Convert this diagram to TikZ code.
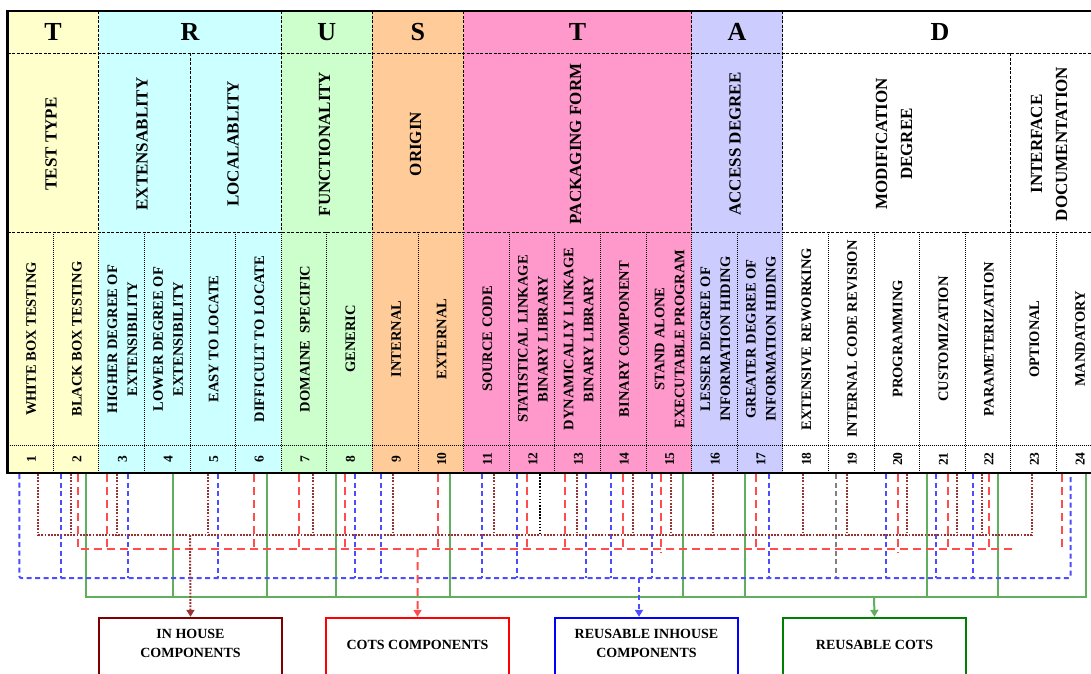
\documentclass[tikz,border=0pt]{standalone}
\usepackage{fontspec}
\setmainfont{Liberation Serif}
\usetikzlibrary{arrows.meta}
\definecolor{cY}{HTML}{FFFFCC}
\definecolor{cC}{HTML}{CCFFFF}
\definecolor{cG}{HTML}{CCFFCC}
\definecolor{cO}{HTML}{FFCC99}
\definecolor{cP}{HTML}{FF99CC}
\definecolor{cL}{HTML}{CCCCFF}
\definecolor{dred}{HTML}{993333}
\definecolor{lred}{HTML}{FF4D4D}
\definecolor{lblue}{HTML}{4D4DFF}
\definecolor{lgreen}{HTML}{5FAF5F}
\definecolor{boxred}{HTML}{800000}
\definecolor{boxgreen}{HTML}{008000}
\tikzset{
  hdr/.style={font=\fontsize{26}{28}\selectfont\bfseries, inner sep=0pt},
  mid/.style={rotate=90, align=center, font=\fontsize{17}{25}\selectfont\bfseries, inner sep=0pt},
  sub/.style={rotate=90, align=center, font=\fontsize{14.5}{20}\selectfont\bfseries, inner sep=0pt},
  num/.style={rotate=90, font=\fontsize{13.5}{15}\selectfont\bfseries, inner sep=0pt},
  gridA/.style={black, line width=0.7pt, dash pattern=on 3pt off 1.5pt},
  gridB/.style={black, line width=0.7pt, dash pattern=on 1pt off 1pt},
  frame/.style={black, line width=2.5pt},
  inhouse/.style={dred, line width=2pt, dash pattern=on 1.8pt off 1.4pt},
  cotsl/.style={lred, line width=2pt, dash pattern=on 8pt off 5pt},
  reusel/.style={lblue, line width=2pt, dash pattern=on 5pt off 3.5pt},
  rcotsl/.style={lgreen, line width=2pt},
  greyl/.style={gray, line width=2pt, dash pattern=on 5pt off 3.5pt},
  blackdot/.style={black, line width=1.5pt, dash pattern=on 1.5pt off 1.6pt},
  outbox/.style={draw=#1, line width=2.4pt, minimum width=183pt, minimum height=100pt, inner sep=0pt, fill=white},
  boxtext/.style={align=center, font=\fontsize{14}{19}\selectfont\bfseries, inner sep=0pt},
  tip/.style={-{Triangle[width=8pt,length=7pt]}}
}
\begin{document}
\begin{tikzpicture}[x=1pt,y=-1pt]
\useasboundingbox (0,0) rectangle (1091,673);
% fills
\fill[cY] (7.5,11) rectangle (98.7,473);
\fill[cC] (98.7,11) rectangle (281.1,473);
\fill[cG] (281.1,11) rectangle (372.3,473);
\fill[cO] (372.3,11) rectangle (463.5,473);
\fill[cP] (463.5,11) rectangle (691.5,473);
\fill[cL] (691.5,11) rectangle (782.7,473);
% grid
\draw[gridA] (7.5,53) -- (1101.9,53);
\draw[gridA] (7.5,232) -- (1101.9,232);
\draw[gridB] (7.5,445) -- (1101.9,445);
\foreach \x in {98.7,281.1,372.3,463.5,691.5,782.7} \draw[gridA] (\x,11) -- (\x,232);
\foreach \x in {189.9,1010.7} \draw[gridA] (\x,53) -- (\x,232);
\foreach \k in {2,...,24} \draw[gridB] ({7.5+45.6*(\k-1)},232) -- ({7.5+45.6*(\k-1)},473);
\draw[frame] (1101.9,11) -- (7.5,11) -- (7.5,473) -- (1101.9,473);
% header letters
\node[hdr] (h1) at (53.1,32) {T};
\node[hdr] (h2) at (189.9,32) {R};
\node[hdr] (h3) at (326.7,32) {U};
\node[hdr] (h4) at (417.9,32) {S};
\node[hdr] (h5) at (577.5,32) {T};
\node[hdr] (h6) at (737.1,32) {A};
\node[hdr] (h7) at (940,32) {D};
% middle labels
\node[mid] (m1) at (51,144) {TEST TYPE};
\node[mid] (m2) at (142,144) {EXTENSABLITY};
\node[mid] (m3) at (233,144) {LOCALABLITY};
\node[mid] (m4) at (324.5,144) {FUNCTIONALITY};
\node[mid] (m5) at (415.5,144) {ORIGIN};
\node[mid] (m6) at (575.5,144) {PACKAGING FORM};
\node[mid] (m7) at (735,144) {ACCESS DEGREE};
\node[mid] (m8) at (894,144) {MODIFICATION\\DEGREE};
\node[mid] (m9) at (1049,144) {INTERFACE\\DOCUMENTATION};
% sub labels
\foreach \k/\t in {1/WHITE BOX TESTING, 2/BLACK BOX TESTING,
  3/{HIGHER DEGREE OF\\EXTENSIBILITY}, 4/{LOWER DEGREE OF\\EXTENSIBILITY},
  5/EASY TO LOCATE, 6/DIFFICULT TO LOCATE, 7/DOMAINE\ \ SPECIFIC, 8/GENERIC,
  9/INTERNAL, 10/EXTERNAL, 11/SOURCE CODE,
  12/{STATISTICAL LINKAGE\\BINARY LIBRARY}, 13/{DYNAMICALLY LINKAGE\\BINARY LIBRARY},
  14/BINARY COMPONENT, 15/{STAND ALONE\\EXECUTABLE PROGRAM},
  16/{LESSER DEGREE OF\\INFORMATION HIDING}, 17/{GREATER DEGREE OF\\INFORMATION HIDING},
  18/EXTENSIVE REWORKING, 19/INTERNAL CODE REVISION, 20/PROGRAMMING,
  21/CUSTOMIZATION, 22/PARAMETERIZATION, 23/OPTIONAL, 24/MANDATORY}
  \node[sub] (s\k) at ({7.5+45.6*(\k-0.5)+1},339) {\t};
% numbers
\foreach \k in {1,...,24}
  \node[num] (n\k) at ({7.5+45.6*(\k-0.5)+1},459) {\k};
% output boxes
\node[outbox=boxred] (b1) at (190.5,668) {};
\node[outbox=red] (b2) at (417.5,668) {};
\node[outbox=blue] (b3) at (646.5,668) {};
\node[outbox=boxgreen] (b4) at (874.5,668) {};
\node[boxtext] (t1) at (190.5,643.5) {IN HOUSE\\COMPONENTS};
\node[boxtext] (t2) at (417.5,645) {COTS COMPONENTS};
\node[boxtext] (t3) at (646.5,643.5) {REUSABLE INHOUSE\\COMPONENTS};
\node[boxtext] (t4) at (874.5,645) {REUSABLE COTS};
% bus taps
\coordinate (ihA) at (190,535);
\coordinate (ctA) at (417.7,549);
\coordinate (riA) at (639,578);
\coordinate (rcA) at (874,596.5);
% green (reusable COTS)
\foreach \x in {173.3,266.7,335.7,450,682.7,745,927.3,998.3}
  \draw[rcotsl] (\x,474) -- (\x,596.5);
\draw[rcotsl] (86,474) -- (86,596.5) -- (1085.7,596.5) -- (1085.7,474);
% blue (reusable inhouse)
\foreach \x in {60.7,127.7,218.3,355,381,481.7,516.7,585.7,610.7,651.7,769.3,886,935.7,973.3}
  \draw[reusel] (\x,474) -- (\x,578);
\draw[greyl] (836,474) -- (836,578);
\draw[reusel, rounded corners=2pt] (19.3,474) -- (19.3,578) -- (1070.7,578) -- (1070.7,474);
% red (COTS)
\foreach \x in {107.3,254,299.3,345,438.3,527.3,565,623.3,755.7,947.7,989.3}
  \draw[cotsl] (\x,474) -- (\x,549);
\foreach \x in {661,897.7}
  \draw[cotsl] (\x,474) -- (\x,553);
\draw[cotsl] (1061.7,474) -- (1061.7,551);
\draw[cotsl] (78.3,474) -- (78.3,549) -- (1012,549);
% dotted (in house)
\foreach \x in {71,116.7,208.3,313.3,392.7,494.3,576.7,633.3,671,713.3,803.3,846.7,906.7,956.7,981.7}
  \draw[inhouse] (\x,474) -- (\x,535);
\draw[blackdot] (540,474) -- (540,535);
\draw[inhouse] (38.3,474) -- (38.3,535) -- (1031.7,535) -- (1031.7,474);
% arrows to boxes
\draw[inhouse, tip] (ihA) -- (b1.north);
\draw[cotsl, tip] (ctA) -- (b2.north);
\draw[reusel, tip] (riA) -- (b3.north -| riA);
\draw[rcotsl, tip] (rcA) -- (b4.north);
\end{tikzpicture}
\end{document}
